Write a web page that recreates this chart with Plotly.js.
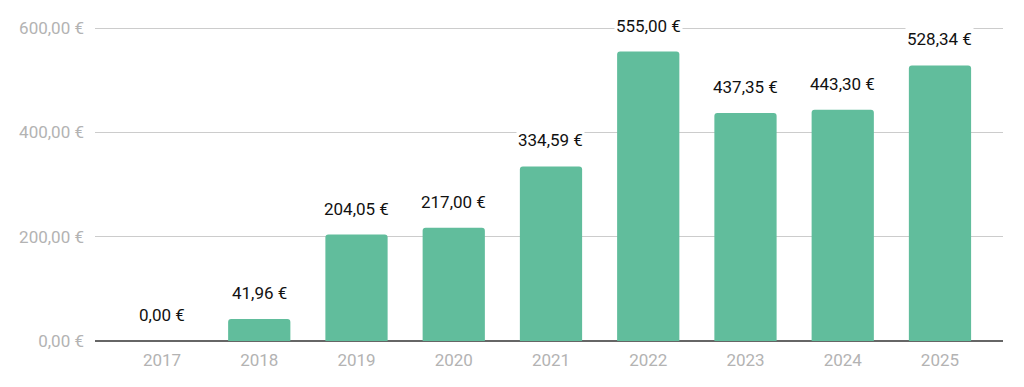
<!DOCTYPE html>
<html><head><meta charset="utf-8">
<script src="https://cdn.plot.ly/plotly-3.0.1.min.js"></script>
<style>html,body{margin:0;padding:0;background:#fff}#chart{width:1024px;height:387px}</style>
</head><body><div id="chart"></div>
<script>
const years = ['2017','2018','2019','2020','2021','2022','2023','2024','2025'];
const values = [0.00, 41.96, 204.05, 217.00, 334.59, 555.00, 437.35, 443.30, 528.34];
const yTickVals = [0, 200, 400, 600];
const yTickText = ['0,00 €', '200,00 €', '400,00 €', '600,00 €'];

function fmt(v){ return v.toFixed(2).replace('.', ',') + ' €'; }

const annotations = years.map((y, i) => ({
  x: i, y: values[i], xref: 'x', yref: 'y',
  text: fmt(values[i]), showarrow: false,
  yanchor: 'middle', yshift: 26,
  bgcolor: '#ffffff', borderpad: 1,
  font: {family: 'Roboto, sans-serif', size: 17, color: '#111111'}
}));

const trace = {
  type: 'bar',
  x: years.map((_, i) => i),
  y: values,
  marker: {color: '#61bd9c', cornerradius: 3},
  hoverinfo: 'skip'
};

const layout = {
  width: 1024, height: 387,
  margin: {l: 95, r: 21, t: 27, b: 46},
  paper_bgcolor: '#fff', plot_bgcolor: '#fff',
  bargap: 0.36,
  showlegend: false,
  font: {family: 'Roboto, sans-serif'},
  xaxis: {
    range: [-0.689, 8.648],
    tickvals: years.map((_, i) => i),
    ticktext: years,
    showgrid: false, zeroline: false, showline: false,
    ticks: '', ticklabelstandoff: 7,
    tickfont: {size: 17, color: '#b3b3b3', family: 'Roboto, sans-serif'},
    fixedrange: true
  },
  yaxis: {
    range: [0, 602],
    tickvals: yTickVals, ticktext: yTickText,
    showgrid: true, gridcolor: '#cccccc', gridwidth: 1,
    zeroline: true, zerolinecolor: '#666666', zerolinewidth: 2,
    showline: false, ticks: '', ticklabelstandoff: 10,
    tickfont: {size: 17, color: '#b3b3b3', family: 'Roboto, sans-serif'},
    fixedrange: true
  },
  annotations: annotations
};

Plotly.newPlot('chart', [trace], layout, {displayModeBar: false, staticPlot: true});
</script></body></html>
